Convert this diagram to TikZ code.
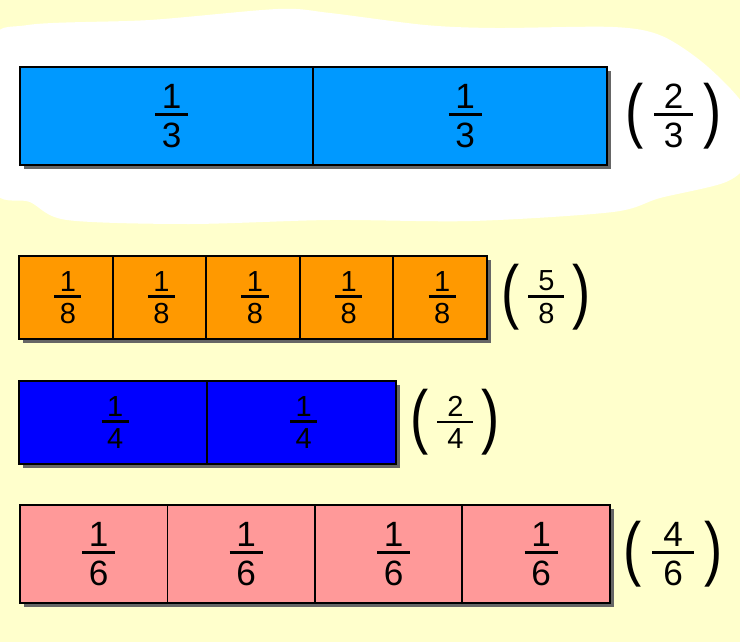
\documentclass[tikz,border=0pt]{standalone}
\usepackage{graphicx}
\usepackage{fontspec}
\setmainfont{Liberation Sans}
\usetikzlibrary{positioning}

\definecolor{paper}{HTML}{FFFFCC}
\definecolor{thirdblue}{HTML}{0099FF}
\definecolor{eighthorange}{HTML}{FF9900}
\definecolor{quarterblue}{HTML}{0000FF}
\definecolor{sixthpink}{HTML}{FF9999}
\definecolor{shadowgray}{HTML}{666666}

% stacked fraction: #1 side padding, #2 numerator, #3 denominator
\newcommand{\piecefrac}[3]{\vcenter{\hbox{\vbox{\offinterlineskip\halign{\hfil##\hfil\cr
    \hspace{#1}#2\hspace{#1}\cr
    \noalign{\kern0.14em\hrule height0.085em\kern0.2em}
    #3\cr}}}}}
\newcommand{\piece}[3][0.28em]{\hspace*{#1}$\piecefrac{0.19em}{#2}{#3}$}
\newcommand{\bigparen}[1]{\vcenter{\hbox{\scalebox{1}[1.3]{\fontsize{31}{31}\selectfont#1}}}}
\newcommand{\total}[3][0.28em]{$\bigparen{(}\mkern5mu\piecefrac{#1}{#2}{#3}\mkern5mu\bigparen{)}$}

\begin{document}
\begin{tikzpicture}[x=0.02cm, y=-0.02cm,
    node distance=0pt,
    every node/.style={inner sep=0pt, outer sep=0pt},
    cell/.style={draw, line width=1.1pt},
    third/.style={cell, fill=thirdblue, minimum width=5.87cm, minimum height=1.96cm, font=\fontsize{20}{24}\selectfont},
    eighth/.style={cell, fill=eighthorange, minimum width=1.872cm, minimum height=1.66cm, font=\fontsize{16.5}{20}\selectfont},
    quarter/.style={cell, fill=quarterblue, minimum width=3.77cm, minimum height=1.66cm, font=\fontsize{16.5}{20}\selectfont},
    sixth/.style={cell, fill=sixthpink, minimum width=2.95cm, minimum height=1.96cm, font=\fontsize{20}{24}\selectfont},
    bigtotal/.style={font=\fontsize{20}{24}\selectfont},
    smalltotal/.style={font=\fontsize{16.5}{20}\selectfont},
    barshadow/.style={fill=shadowgray}
]
% paper and the white cloud behind the thirds
\fill[paper] (0,0) rectangle (740,642);
\useasboundingbox (0,0) rectangle (740,642);
\begin{scope}
\clip (0,0) rectangle (740,642);
\fill[white] plot[smooth cycle] coordinates {(-8,45) (28,25) (150,20) (278,9) (330,13) (425,25) (495,28) (613,27) (662,36) (708,67) (748,112) (748,160) (726,182) (660,198) (613,212) (472,221) (330,220) (189,224) (67,220) (30,202) (-8,186)};
\end{scope}

% shadows
\fill[barshadow] (24,71) rectangle (611,169);
\fill[barshadow] (23,260) rectangle (491,343);
\fill[barshadow] (23,385) rectangle (400,468);
\fill[barshadow] (24,509) rectangle (614,607);

% thirds
\node[third, anchor=north west] (t1) at (20,67) {\piece{1}{3}};
\node[third, right=of t1] (t2) {\piece{1}{3}};
\node[bigtotal, right=0.38cm of t2] (t-sum) {\total{2}{3}};

% eighths
\node[eighth, anchor=north west] (e1) at (19,256) {\piece[0.14em]{1}{8}};
\foreach \i [count=\j from 1] in {2,...,5}
    \node[eighth, right=of e\j] (e\i) {\piece[0.14em]{1}{8}};
\node[smalltotal, right=0.3cm of e5] (e-sum) {\total[0.34em]{5}{8}};

% quarters
\node[quarter, anchor=north west] (q1) at (19,381) {\piece[0.14em]{1}{4}};
\node[quarter, right=of q1] (q2) {\piece[0.14em]{1}{4}};
\node[smalltotal, right=0.3cm of q2] (q-sum) {\total[0.34em]{2}{4}};

% sixths
\node[sixth, anchor=north west] (s1) at (20,505) {\piece{1}{6}};
\foreach \i [count=\j from 1] in {2,...,4}
    \node[sixth, right=of s\j] (s\i) {\piece{1}{6}};
\node[bigtotal, right=0.28cm of s4] (s-sum) {\total[0.32em]{4}{6}};
\end{tikzpicture}
\end{document}
